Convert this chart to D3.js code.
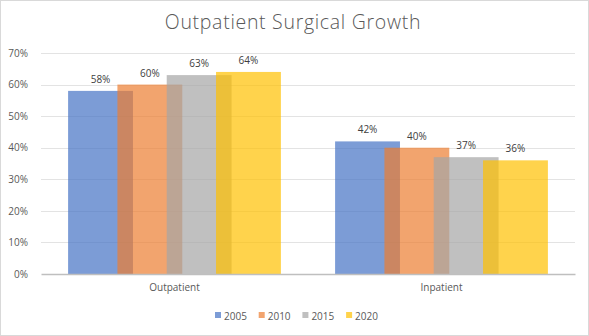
<!DOCTYPE html>
<html>
<head>
<meta charset="utf-8">
<style>
  body { margin: 0; background: #fff; }
  svg text { font-family: "Open Sans", "Liberation Sans", sans-serif; }
</style>
</head>
<body>
<svg width="589" height="336"></svg>
<script src="https://d3js.org/d3.v7.min.js"></script>
<script>
var categories = ["Outpatient", "Inpatient"];
var years = ["2005", "2010", "2015", "2020"];
var values2005 = [0.58, 0.42];
var values2010 = [0.60, 0.40];
var values2015 = [0.63, 0.37];
var values2020 = [0.64, 0.36];
var yTicks = [0, 0.1, 0.2, 0.3, 0.4, 0.5, 0.6, 0.7];
var colors = ["#4472C4", "#ED7D31", "#A5A5A5", "#FFC000"];

var series = [values2005, values2010, values2015, values2020];

var svg = d3.select("svg"),
    margin = { top: 53, right: 14, bottom: 62, left: 41 },
    width = 589 - margin.left - margin.right,
    height = 336 - margin.top - margin.bottom;

// chart border
svg.append("rect")
    .attr("x", 0.5).attr("y", 0.5)
    .attr("width", 588).attr("height", 335)
    .attr("fill", "#fff")
    .attr("stroke", "#d9d9d9");

svg.append("text")
    .attr("x", 293)
    .attr("y", 29)
    .attr("text-anchor", "middle")
    .attr("font-size", 19.5)
    .attr("font-weight", 300)
    .attr("letter-spacing", 0.7)
    .attr("fill", "#595959")
    .text("Outpatient Surgical Growth");

var g = svg.append("g").attr("transform", "translate(" + margin.left + "," + margin.top + ")");

var x = d3.scaleBand().domain(categories).range([0, width]);

var y = d3.scaleLinear().domain([0, 0.7]).range([height, 0]);

// gridlines
g.append("g")
    .selectAll("line")
    .data(yTicks.slice(1))
    .enter().append("line")
    .attr("x1", 0).attr("x2", width)
    .attr("y1", function(d) { return Math.round(y(d)) + 0.5; })
    .attr("y2", function(d) { return Math.round(y(d)) + 0.5; })
    .attr("stroke", "#e3e3e3");

// y axis labels
var yAxis = g.append("g")
    .call(d3.axisLeft(y).tickValues(yTicks).tickFormat(d3.format(".0%")).tickSize(0).tickPadding(13));
yAxis.select(".domain").remove();
yAxis.selectAll("text")
    .attr("font-family", "\"Open Sans\", sans-serif")
    .attr("font-size", 10)
    .attr("fill", "#595959");

// Excel-style overlapping bars: width 65, step 49.5
var barW = x.bandwidth() * 0.243;
var step = barW * 0.76;
var groupW = barW + step * 3;

series.forEach(function(vals, si) {
    var s = g.append("g").attr("fill", colors[si]).attr("fill-opacity", 0.7);
    s.selectAll("rect")
        .data(vals)
        .enter().append("rect")
        .attr("x", function(d, i) { return x(categories[i]) + (x.bandwidth() - groupW) / 2 + si * step; })
        .attr("y", function(d) { return y(d); })
        .attr("width", barW)
        .attr("height", function(d) { return y(0) - y(d); });

    g.append("g").selectAll("text")
        .data(vals)
        .enter().append("text")
        .attr("x", function(d, i) { return x(categories[i]) + (x.bandwidth() - groupW) / 2 + si * step + barW / 2; })
        .attr("y", function(d) { return y(d) - 8; })
        .attr("text-anchor", "middle")
        .attr("font-size", 10)
        .attr("fill", "#404040")
        .text(d3.format(".0%"));
});

// x axis
var xAxis = g.append("g")
    .attr("transform", "translate(0," + height + ")")
    .call(d3.axisBottom(x).tickSize(0).tickPadding(10));
xAxis.select(".domain").attr("stroke", "#bfbfbf").attr("stroke-width", 1.5);
xAxis.selectAll("text")
    .attr("font-family", "\"Open Sans\", sans-serif")
    .attr("font-size", 10)
    .attr("fill", "#595959");

// legend
var legend = svg.append("g")
    .selectAll("g")
    .data(years)
    .enter().append("g")
    .attr("transform", function(d, i) { return "translate(" + (215 + i * 43.7) + ",312)"; });

legend.append("rect")
    .attr("width", 6).attr("height", 6)
    .attr("fill", function(d, i) { return colors[i]; })
    .attr("fill-opacity", 0.7);

legend.append("text")
    .attr("x", 9)
    .attr("y", 7.5)
    .attr("font-size", 10)
    .attr("fill", "#595959")
    .text(function(d) { return d; });
</script>
</body>
</html>
